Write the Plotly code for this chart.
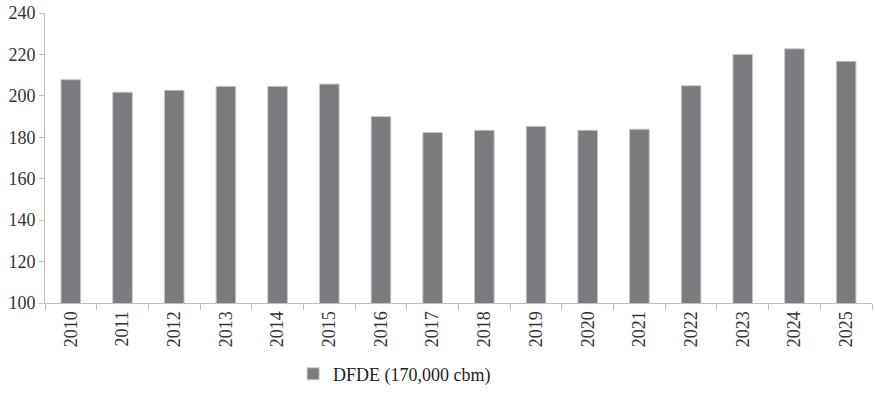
import plotly.graph_objects as go

years = [str(y) for y in range(2010, 2026)]
dfde = [207.8, 201.8, 202.7, 204.6, 204.6, 205.7, 190.0, 182.3, 183.4, 185.3,
        183.4, 183.9, 204.9, 220.0, 222.7, 216.7]
series_name = "DFDE (170,000 cbm)"

fig = go.Figure()
fig.add_trace(go.Bar(
    x=years, y=dfde, name=series_name,
    marker=dict(color="#7b7b7f", line=dict(color="#c8c8c8", width=1)),
    width=0.38, showlegend=True,
))

serif = "Times New Roman, Liberation Serif, DejaVu Serif, serif"
axis_font = dict(family=serif, size=18, color="#333333")
fig.update_layout(
    width=875, height=396,
    margin=dict(l=45, r=3, t=10, b=89),
    paper_bgcolor="white", plot_bgcolor="white",
    showlegend=True,
    font=dict(family=serif),
    legend=dict(orientation="h", x=0.30, y=-0.245, xanchor="left", yanchor="middle",
                itemwidth=30,
                font=dict(family=serif, size=18, color="#222222")),
    xaxis=dict(type="category", tickangle=-90, tickfont=axis_font,
               showline=True, linecolor="#bfbfbf", linewidth=1,
               ticks="outside", tickson="boundaries", ticklen=6, tickcolor="#bfbfbf",
               showgrid=False),
    yaxis=dict(range=[100, 240], dtick=20, tickfont=axis_font,
               showline=True, linecolor="#bfbfbf", linewidth=1,
               ticks="outside", ticklen=5, tickcolor="#bfbfbf",
               showgrid=False, zeroline=False),
)
fig.write_html("out.html")
